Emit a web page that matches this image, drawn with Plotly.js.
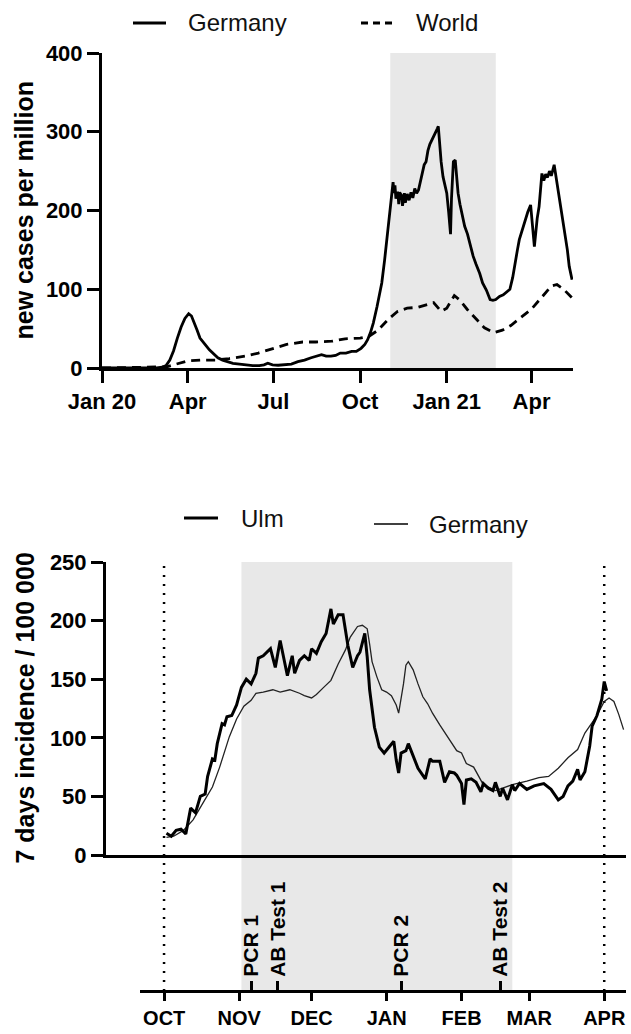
<!DOCTYPE html>
<html>
<head>
<meta charset="utf-8">
<script src="https://cdn.plot.ly/plotly-3.0.1.min.js"></script>
<style>html,body{margin:0;padding:0;background:#fff;}#chart{width:631px;height:1034px;}</style>
</head>
<body>
<div id="chart"></div>
<script>
// ---------- DATA ----------
// Top chart: new cases per million
const germanyTopDates = ['2020-01-01','2020-02-28','2020-03-05','2020-03-09','2020-03-13','2020-03-17','2020-03-21','2020-03-25','2020-03-29','2020-04-02','2020-04-05','2020-04-08','2020-04-11','2020-04-14','2020-04-17','2020-04-20','2020-04-24','2020-04-28','2020-05-03','2020-05-08','2020-05-13','2020-05-19','2020-05-26','2020-06-02','2020-06-09','2020-06-16','2020-06-21','2020-06-25','2020-06-30','2020-07-06','2020-07-13','2020-07-20','2020-07-27','2020-08-03','2020-08-10','2020-08-17','2020-08-21','2020-08-26','2020-08-31','2020-09-05','2020-09-10','2020-09-16','2020-09-22','2020-09-27','2020-10-02','2020-10-06','2020-10-09','2020-10-12','2020-10-15','2020-10-19','2020-10-22','2020-10-24','2020-10-27','2020-10-30','2020-11-02','2020-11-04','2020-11-05','2020-11-06','2020-11-07','2020-11-08','2020-11-10','2020-11-11','2020-11-12','2020-11-14','2020-11-15','2020-11-17','2020-11-18','2020-11-20','2020-11-22','2020-11-24','2020-11-26','2020-11-28','2020-11-30','2020-12-02','2020-12-04','2020-12-06','2020-12-08','2020-12-10','2020-12-12','2020-12-14','2020-12-16','2020-12-18','2020-12-20','2020-12-22','2020-12-23','2020-12-24','2020-12-26','2020-12-28','2020-12-30','2021-01-01','2021-01-03','2021-01-05','2021-01-06','2021-01-08','2021-01-10','2021-01-11','2021-01-13','2021-01-15','2021-01-18','2021-01-20','2021-01-23','2021-01-26','2021-01-29','2021-02-01','2021-02-05','2021-02-08','2021-02-12','2021-02-16','2021-02-19','2021-02-22','2021-02-26','2021-03-02','2021-03-06','2021-03-09','2021-03-12','2021-03-15','2021-03-17','2021-03-19','2021-03-22','2021-03-25','2021-03-28','2021-03-31','2021-04-02','2021-04-04','2021-04-07','2021-04-09','2021-04-12','2021-04-14','2021-04-16','2021-04-18','2021-04-20','2021-04-22','2021-04-25','2021-04-27','2021-04-29','2021-05-01','2021-05-04','2021-05-07','2021-05-09','2021-05-11','2021-05-14'];
const germanyTopValues = [0,0,1,3,10,22,38,52,63,69,66,58,48,38,33,29,23,18,13,10,8,6,5,4,3,3,4,6,4,3.5,4,5,8,10,13,16,17,15,15,16,19,19,21,21,25,30,36,45,57,78,95,108,137,171,201,228,236,222,232,215,224,208,223,219,206,222,210,221,213,223,216,228,222,226,238,248,258,262,276,284,289,294,297,304,307,290,262,243,230,222,198,170,215,262,264,248,222,208,190,180,170,155,142,132,120,108,99,87,86,87,91,93,97,100,115,140,150,163,175,188,198,207,180,154,190,205,247,238,246,242,250,244,258,243,230,213,192,171,150,129,112];

const worldDates = ['2020-01-01','2020-02-15','2020-03-10','2020-03-20','2020-04-01','2020-04-15','2020-05-01','2020-05-15','2020-06-01','2020-06-15','2020-07-01','2020-07-15','2020-08-01','2020-08-15','2020-09-01','2020-09-15','2020-10-01','2020-10-10','2020-10-20','2020-10-31','2020-11-10','2020-11-20','2020-12-01','2020-12-10','2020-12-18','2020-12-26','2021-01-01','2021-01-09','2021-01-15','2021-01-23','2021-02-01','2021-02-10','2021-02-20','2021-03-01','2021-03-10','2021-03-20','2021-04-01','2021-04-12','2021-04-22','2021-04-28','2021-05-05','2021-05-14'];
const worldValues = [0,0.5,1.5,5,9,10,10,12,15,19,25,30,33,33,34,37,38,40,48,62,72,76,77,80,83,72,76,92,86,74,62,51,45,48,54,64,75,90,104,106,100,89];

// Bottom chart: 7 days incidence / 100 000
const ulmDates = ['2020-10-02','2020-10-04','2020-10-06','2020-10-08','2020-10-10','2020-10-11','2020-10-12','2020-10-14','2020-10-16','2020-10-18','2020-10-19','2020-10-21','2020-10-22','2020-10-23','2020-10-25','2020-10-26','2020-10-27','2020-10-29','2020-10-31','2020-11-02','2020-11-04','2020-11-06','2020-11-08','2020-11-09','2020-11-11','2020-11-14','2020-11-16','2020-11-18','2020-11-19','2020-11-20','2020-11-21','2020-11-23','2020-11-24','2020-11-26','2020-11-28','2020-11-30','2020-12-01','2020-12-03','2020-12-05','2020-12-07','2020-12-09','2020-12-10','2020-12-12','2020-12-14','2020-12-16','2020-12-18','2020-12-20','2020-12-21','2020-12-23','2020-12-24','2020-12-25','2020-12-27','2020-12-29','2020-12-31','2021-01-02','2021-01-04','2021-01-05','2021-01-06','2021-01-07','2021-01-09','2021-01-10','2021-01-12','2021-01-14','2021-01-16','2021-01-17','2021-01-19','2021-01-20','2021-01-23','2021-01-24','2021-01-25','2021-01-27','2021-01-29','2021-01-30','2021-02-01','2021-02-02','2021-02-03','2021-02-05','2021-02-07','2021-02-09','2021-02-10','2021-02-12','2021-02-14','2021-02-15','2021-02-17','2021-02-18','2021-02-20','2021-02-22','2021-02-23','2021-02-25','2021-02-28','2021-03-03','2021-03-07','2021-03-10','2021-03-13','2021-03-15','2021-03-17','2021-03-19','2021-03-21','2021-03-22','2021-03-24','2021-03-26','2021-03-27','2021-03-29','2021-03-31','2021-04-01','2021-04-02'];
const ulmValues = [18.5,16,21,22,18,30,40,36,50,52,67,82,81,95,112,111,118,119,128,143,150,146,155,168,170,176,160,183,173,165,153,170,155,166,170,166,176,172,182,189,210,197,205,205,179,160,170,173,189,169,141,109,92,87,92,97,81,70,87,89,95,84,74,68,65,82,80,80,72,62,71,70,68,61,43,64,65,62,54,61,57,55,62,50,57,47,60,55,61,56,59,61,56,47,50,59,63,73,64,71,93,110,119,133,148,140];

const germanyBotDates = ['2020-10-02','2020-10-05','2020-10-09','2020-10-13','2020-10-17','2020-10-21','2020-10-24','2020-10-28','2020-10-31','2020-11-03','2020-11-06','2020-11-08','2020-11-11','2020-11-15','2020-11-18','2020-11-22','2020-11-26','2020-11-28','2020-12-01','2020-12-03','2020-12-06','2020-12-09','2020-12-12','2020-12-15','2020-12-17','2020-12-20','2020-12-22','2020-12-24','2020-12-25','2020-12-26','2020-12-28','2020-12-30','2021-01-01','2021-01-03','2021-01-05','2021-01-06','2021-01-08','2021-01-09','2021-01-10','2021-01-12','2021-01-14','2021-01-16','2021-01-18','2021-01-20','2021-01-23','2021-01-25','2021-01-28','2021-01-30','2021-02-01','2021-02-03','2021-02-06','2021-02-08','2021-02-10','2021-02-13','2021-02-15','2021-02-18','2021-02-22','2021-02-28','2021-03-05','2021-03-09','2021-03-13','2021-03-17','2021-03-21','2021-03-24','2021-03-26','2021-03-29','2021-04-01','2021-04-03','2021-04-05','2021-04-07','2021-04-09'];
const germanyBotValues = [15,16,21,30,44,58,75,101,116,127,132,138,139,141,139,141,138,136,134,137,143,149,163,175,186,195,196,193,180,165,152,141,139,136,128,121,146,162,165,158,146,135,129,121,111,105,95,89,87,78,75,67,60,57,55,57,60,63,66,67,74,83,90,104,110,119,131,134,131,120,107];

// Periods, reference lines and timeline
const periodStart = '2020-11-02';
const periodEnd = '2021-02-22';
const refLineDates = ['2020-10-01','2021-04-01'];
const topTickDates = ['2020-01-01','2020-04-01','2020-07-01','2020-10-01','2021-01-01','2021-04-01'];
const topTickLabels = ['Jan 20','Apr','Jul','Oct','Jan 21','Apr'];
const monthDates = ['2020-10-01','2020-11-01','2020-12-01','2021-01-01','2021-02-01','2021-03-01','2021-04-01'];
const monthLabels = ['OCT','NOV','DEC','JAN','FEB','MAR','APR'];
const eventDates = ['2020-11-06','2020-11-17','2021-01-07','2021-02-17'];
const eventLabels = ['PCR 1','AB Test 1','PCR 2','AB Test 2'];

// ---------- LAYOUT HELPERS ----------
const W = 631, H = 1034;
const px = v => v / W;
const py = v => 1 - v / H;
const FF = 'Liberation Sans, Arial, Helvetica, sans-serif';
const boldFont = s => ({family: FF, size: s, color: '#000', weight: 'bold'});
const AX = {showgrid:false, zeroline:false, showline:true, linewidth:3, linecolor:'#000',
            ticks:'outside', ticklen:12, tickwidth:3, tickcolor:'#000', fixedrange:true};

const traces = [
  {x: germanyTopDates, y: germanyTopValues, name: 'Germany', type:'scatter', mode:'lines',
   line:{color:'#000', width:2.8}, xaxis:'x', yaxis:'y', showlegend:false, hoverinfo:'skip'},
  {x: worldDates, y: worldValues, name: 'World', type:'scatter', mode:'lines',
   line:{color:'#000', width:2.8, dash:'9px,6px'}, xaxis:'x', yaxis:'y', showlegend:false, hoverinfo:'skip'},
  {x: germanyBotDates, y: germanyBotValues, name: 'Germany', type:'scatter', mode:'lines',
   line:{color:'#222', width:1.3}, xaxis:'x2', yaxis:'y2', showlegend:false, hoverinfo:'skip'},
  {x: ulmDates, y: ulmValues, name: 'Ulm', type:'scatter', mode:'lines',
   line:{color:'#000', width:3}, xaxis:'x2', yaxis:'y2', showlegend:false, hoverinfo:'skip'},
  {x: monthDates, y: monthDates.map(() => null), type:'scatter', mode:'none',
   xaxis:'x3', yaxis:'y3', showlegend:false, hoverinfo:'skip'},
  {x: eventDates, y: eventDates.map(() => null), type:'scatter', mode:'none',
   xaxis:'x4', yaxis:'y3', showlegend:false, hoverinfo:'skip'}
];

const timelineY = py(991);
const shapes = [
  {type:'rect', xref:'x', yref:'y', x0: periodStart, x1: periodEnd, y0: 0, y1: 400,
   fillcolor:'#e8e8e8', line:{width:0}, layer:'below'},
  {type:'rect', xref:'x2', yref:'paper', x0: periodStart, x1: periodEnd, y0: timelineY, y1: py(562),
   fillcolor:'#e8e8e8', line:{width:0}, layer:'below'}
];
refLineDates.forEach(d => shapes.push({type:'line', xref:'x2', yref:'paper', x0:d, x1:d,
   y0: timelineY, y1: py(562), line:{color:'#000', width:2.5, dash:'2px,7px'}, layer:'below'}));

// manual legends
const legendItems = [
  {x0:133, x1:166, y:23, w:2.8, dash:'solid', tx:186, text:'Germany'},
  {x0:361, x1:395, y:23, w:2.8, dash:'7px,5px', tx:414, text:'World'},
  {x0:184, x1:218, y:518, w:3, dash:'solid', tx:239, text:'Ulm'},
  {x0:374, x1:408, y:524, w:1.3, dash:'solid', tx:427, text:'Germany'}
];
const annotations = [];
legendItems.forEach(it => {
  shapes.push({type:'line', xref:'paper', yref:'paper', x0:px(it.x0), x1:px(it.x1), y0:py(it.y), y1:py(it.y),
    line:{color:'#000', width:it.w, dash:it.dash}});
  annotations.push({xref:'paper', yref:'paper', x:px(it.tx), y:py(it.y), xanchor:'left', yanchor:'middle',
    text: it.text, showarrow:false, font:{family:FF, size:24, color:'#111'}});
});
annotations.push({xref:'paper', yref:'paper', x:px(24), y:py((53+368)/2), xanchor:'center', yanchor:'middle',
  text:'new cases per million', textangle:-90, showarrow:false, font: boldFont(25)});
annotations.push({xref:'paper', yref:'paper', x:px(24), y:py((562+855)/2), xanchor:'center', yanchor:'middle',
  text:'7 days incidence / 100 000', textangle:-90, showarrow:false, font: boldFont(25)});

const layout = {
  width: W, height: H,
  margin: {l:0, r:0, t:0, b:0},
  paper_bgcolor:'#fff', plot_bgcolor:'rgba(0,0,0,0)',
  showlegend:false,
  xaxis: Object.assign({}, AX, {domain:[px(102), px(573)], anchor:'y', type:'date',
    range:['2020-01-01','2021-05-15'], tickvals: topTickDates, ticktext: topTickLabels, tickfont: boldFont(22)}),
  yaxis: Object.assign({}, AX, {domain:[py(368), py(53)], anchor:'x', range:[0,400],
    tickvals:[0,100,200,300,400], tickfont: boldFont(22)}),
  xaxis2: Object.assign({}, AX, {domain:[px(106), px(626)], anchor:'y2', type:'date',
    range:['2020-09-07','2021-04-10'], ticks:'', showticklabels:false}),
  yaxis2: Object.assign({}, AX, {domain:[py(855), py(562)], anchor:'x2', range:[0,250],
    tickvals:[0,50,100,150,200,250], tickfont: boldFont(22)}),
  yaxis3: {domain:[0, 0.02], range:[0,1], visible:false, fixedrange:true},
  xaxis3: Object.assign({}, AX, {domain:[px(140), px(626)], anchor:'free', position: timelineY, type:'date',
    ticklen:8, range:['2020-09-21','2021-04-10'], tickvals: monthDates, ticktext: monthLabels, tickfont: boldFont(20)}),
  xaxis4: Object.assign({}, AX, {domain:[px(140), px(626)], anchor:'free', position: timelineY, type:'date',
    side:'top', overlaying:'x3', showline:false, ticklen:10,
    range:['2020-09-21','2021-04-10'], tickvals: eventDates, ticktext: eventLabels, tickangle:-90, tickfont: boldFont(21)}),
  shapes: shapes,
  annotations: annotations
};

Plotly.newPlot('chart', traces, layout, {displayModeBar:false, staticPlot:true});
</script>
</body>
</html>
